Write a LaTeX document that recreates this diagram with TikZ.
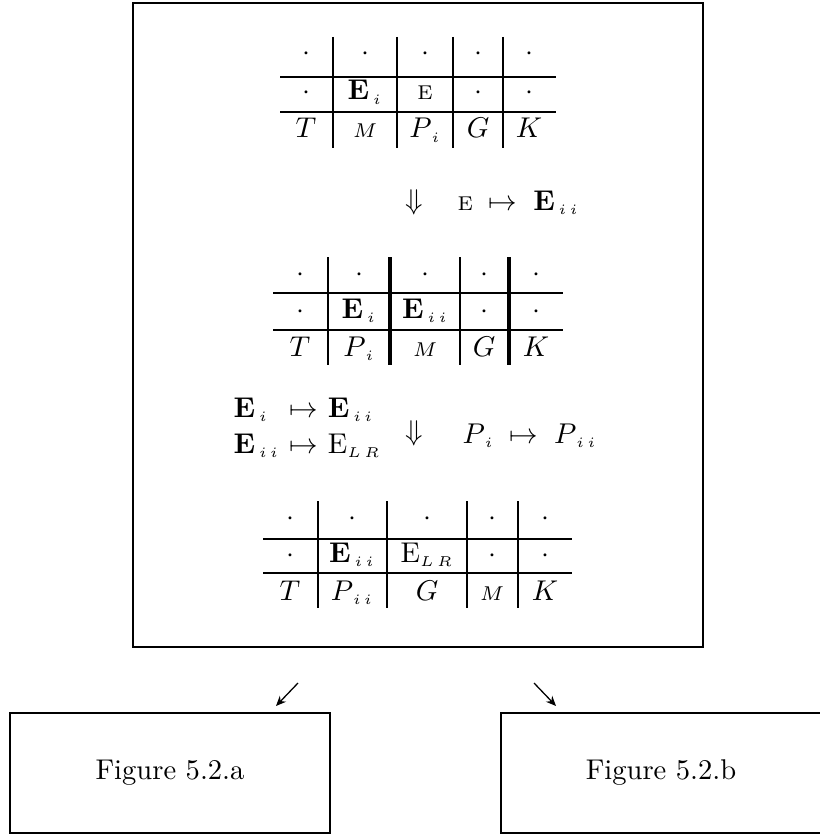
\documentclass[tikz,border=0pt]{standalone}
\usepackage{amsmath,amssymb}
\usetikzlibrary{arrows.meta,positioning}

\begin{document}
\begin{tikzpicture}[x=0.35pt, y=-0.35pt,
  rule/.style={line width=0.8pt},
  heavy/.style={line width=1.3pt},
  frame/.style={line width=0.85pt},
  cell/.style={anchor=base, inner sep=0pt},
  figbox/.style={draw, line width=0.9pt, minimum width=112pt, minimum height=42pt},
  thinarrow/.style={line width=0.45pt, -{Stealth[length=3.5pt, width=3pt]}}]
\useasboundingbox (0,0) rectangle (820,837);
\draw[frame] (133,3) rectangle (703,647);

% first table
\foreach \x in {333,397,453,503} \draw[rule] (\x,37) -- (\x,148);
\draw[rule] (280,77) -- (556,77);
\draw[rule] (280,112) -- (556,112);
\foreach \x [count=\i] in {306,365,425,478,529} \node[cell] (a-1-\i) at (\x,61) {$\cdot$};
\node[cell] (a-2-1) at (306,100) {$\cdot$};
\node[cell] (a-2-2) at (365,100) {$\mathbf{E}_{\,\scriptscriptstyle i}$};
\node[cell] (a-2-3) at (425,100) {\scriptsize E};
\node[cell] (a-2-4) at (478,100) {$\cdot$};
\node[cell] (a-2-5) at (529,100) {$\cdot$};
\node[cell] (a-3-1) at (306,138) {$T$};
\node[cell] (a-3-2) at (365,138) {$\scriptstyle M$};
\node[cell] (a-3-3) at (425,138) {$P_{\,\scriptscriptstyle i}$};
\node[cell] (a-3-4) at (478,138) {$G$};
\node[cell] (a-3-5) at (529,138) {$K$};

% first step
\node (down1) at (414,202) {$\Downarrow$};
\node[anchor=base west, inner sep=0pt] (map1) at (457,210)
  {$\mbox{\scriptsize E}\;\mapsto\;\mathbf{E}_{\,\scriptscriptstyle i\,i}$};

% second table
\foreach \x in {328,460} \draw[rule] (\x,257) -- (\x,365);
\foreach \x in {390,509} \draw[heavy] (\x,257) -- (\x,365);
\draw[rule] (273,293) -- (563,293);
\draw[rule] (273,330) -- (563,330);
\foreach \x [count=\i] in {300,359,425,484,536} \node[cell] (b-1-\i) at (\x,281) {$\cdot$};
\node[cell] (b-2-1) at (300,318) {$\cdot$};
\node[cell] (b-2-2) at (359,318) {$\mathbf{E}_{\,\scriptscriptstyle i}$};
\node[cell] (b-2-3) at (425,318) {$\mathbf{E}_{\,\scriptscriptstyle i\,i}$};
\node[cell] (b-2-4) at (484,318) {$\cdot$};
\node[cell] (b-2-5) at (536,318) {$\cdot$};
\node[cell] (b-3-1) at (300,356) {$T$};
\node[cell] (b-3-2) at (359,356) {$P_{\,\scriptscriptstyle i}$};
\node[cell] (b-3-3) at (425,356) {$\scriptstyle M$};
\node[cell] (b-3-4) at (484,356) {$G$};
\node[cell] (b-3-5) at (536,356) {$K$};

% second step
\node[anchor=west, inner sep=0pt] (maps) at (233,428)
  {\renewcommand{\arraystretch}{1.05}$\begin{array}{@{}l@{\hspace{3.5pt}}l@{\hspace{3.5pt}}l@{}}
   \mathbf{E}_{\,\scriptscriptstyle i} & \mapsto & \mathbf{E}_{\,\scriptscriptstyle i\,i}\\
   \mathbf{E}_{\,\scriptscriptstyle i\,i} & \mapsto & \mathrm{E}_{\scriptscriptstyle L\,R}
   \end{array}$};
\node (down2) at (414,433) {$\Downarrow$};
\node[anchor=base west, inner sep=0pt] (map3) at (462,443)
  {$P_{\,\scriptscriptstyle i}\;\mapsto\;P_{\,\scriptscriptstyle i\,i}$};

% third table
\foreach \x in {318,387,467,518} \draw[rule] (\x,501) -- (\x,608);
\draw[rule] (263,539) -- (572,539);
\draw[rule] (263,573) -- (572,573);
\foreach \x [count=\i] in {290,352,427,492,545} \node[cell] (c-1-\i) at (\x,525) {$\cdot$};
\node[cell] (c-2-1) at (290,562) {$\cdot$};
\node[cell] (c-2-2) at (352,562) {$\mathbf{E}_{\,\scriptscriptstyle i\,i}$};
\node[cell] (c-2-3) at (427,562) {$\mathrm{E}_{\scriptscriptstyle L\,R}$};
\node[cell] (c-2-4) at (492,562) {$\cdot$};
\node[cell] (c-2-5) at (545,562) {$\cdot$};
\node[cell] (c-3-1) at (290,600) {$T$};
\node[cell] (c-3-2) at (352,600) {$P_{\,\scriptscriptstyle i\,i}$};
\node[cell] (c-3-3) at (427,600) {$G$};
\node[cell] (c-3-4) at (492,600) {$\scriptstyle M$};
\node[cell] (c-3-5) at (545,600) {$K$};

% results
\node[figbox] (figa) at (170,773) {Figure 5.2.a};
\node[figbox] (figb) at (661,773) {Figure 5.2.b};
\coordinate (outa) at (298,683);
\coordinate (ina) at (276,706);
\coordinate (outb) at (534,683);
\coordinate (inb) at (556,706);
\draw[thinarrow] (outa) -- (ina);
\draw[thinarrow] (outb) -- (inb);
\end{tikzpicture}
\end{document}
